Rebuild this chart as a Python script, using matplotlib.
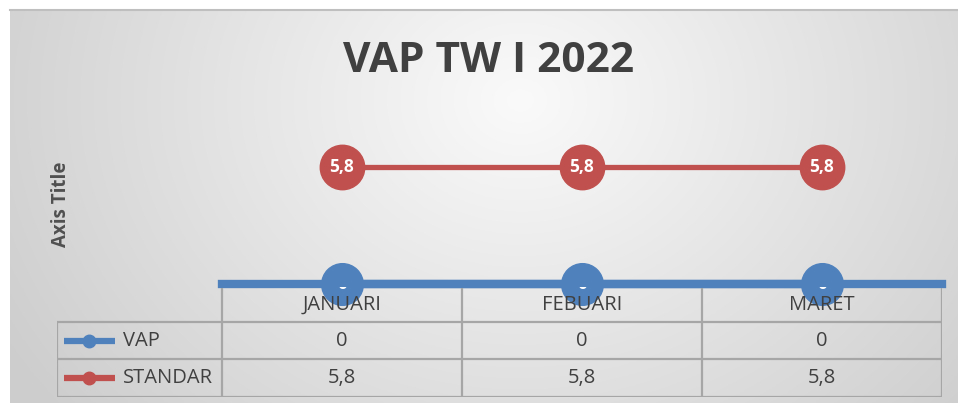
import numpy as np
import matplotlib
matplotlib.use('Agg')
import matplotlib.pyplot as plt
from matplotlib.transforms import Bbox, TransformedBbox

# data
categories = ['JANUARI', 'FEBUARI', 'MARET']
series_names = ['VAP', 'STANDAR']
vap = [0, 0, 0]
standar = [5.8, 5.8, 5.8]
value_labels = {'VAP': ['0', '0', '0'], 'STANDAR': ['5,8', '5,8', '5,8']}

BLUE = '#4f81bd'
RED = '#c0504d'
TEXT = '#404040'
GRID = '#a6a6a6'

plt.rcParams['font.family'] = ['Open Sans', 'DejaVu Sans']

W, H = 958, 403
fig = plt.figure(figsize=(W / 100, H / 100), dpi=100)
fig.patch.set_facecolor('white')


def fx(px):
    return px / W


def fy(py):
    return 1 - py / H


# background gradient (radial, light near the middle)
bg = fig.add_axes([fx(10), 0, fx(W - 10), fy(10)])
yy, xx = np.mgrid[10:H, 10:W]
r = np.sqrt(((xx - 520) / 600.0) ** 2 + ((yy - 100) / 500.0) ** 2)
shade = (250 - 45 * np.clip(r, 0, 1)) / 255.0
bg.imshow(np.dstack([shade] * 3), aspect='auto', interpolation='bilinear')
bg.set_axis_off()
fig.add_artist(plt.Line2D([fx(10), 1], [fy(10), fy(10)], color='#bfbfbf', lw=1.5))

# plot area
ax = fig.add_axes([fx(222), fy(284), fx(942 - 222), (284 - 143) / H])
ax.patch.set_alpha(0)
x = np.arange(1, len(categories) + 1)
ax.set_xlim(0.5, len(categories) + 0.5)
ax.set_ylim(0, 7)
for s in ['top', 'left', 'right']:
    ax.spines[s].set_visible(False)
ax.spines['bottom'].set_color(BLUE)
ax.spines['bottom'].set_linewidth(6)
ax.set_xticks([])
ax.set_yticks([])

ax.plot(x, standar, color=RED, lw=3.8, marker='o', ms=32, clip_on=False, zorder=3)
ax.plot(x, vap, color=BLUE, lw=6, marker='o', ms=30, clip_on=False, zorder=4)

for xi, v, lab in zip(x, standar, value_labels['STANDAR']):
    ax.text(xi, v, lab, color='white', fontsize=12.5, fontweight='bold',
            ha='center', va='center', zorder=5)
clip = TransformedBbox(Bbox([[0, -0.05], [1, -0.022]]), ax.transAxes)
for xi, v, lab in zip(x, vap, value_labels['VAP']):
    t = ax.text(xi, v, lab, color='white', fontsize=12.5, fontweight='bold',
                ha='center', va='center', zorder=5)
    t.set_clip_box(clip)
    t.set_clip_on(True)

# titles
fig.text(fx(489), fy(62), 'VAP TW I 2022', fontsize=30.5, fontweight='bold',
         color=TEXT, ha='center', va='center')
fig.text(fx(61), fy(204), 'Axis Title', fontsize=13.5, fontweight='bold',
         color='#505050', rotation=90, ha='center', va='center')

# data table
tab = fig.add_axes([fx(57), fy(397), fx(942 - 57), (397 - 284) / H])
tab.set_axis_off()
col_w = 240.0
x0 = 0.5 - (222 - 57) / col_w
tab.set_xlim(x0, len(categories) + 0.5)
tab.set_ylim(3, 0)
edges = np.arange(len(categories) + 1) + 0.5
for e in edges:
    tab.plot([e, e], [0.1, 3], color=GRID, lw=1.6, solid_capstyle='butt')
tab.plot([x0, x0], [1, 3], color=GRID, lw=1.6, solid_capstyle='butt')
for row in [1, 2, 3]:
    tab.plot([x0, edges[-1]], [row, row], color=GRID, lw=1.6, solid_capstyle='butt')

for xi, c in zip(x, categories):
    tab.text(xi, 0.55, c, fontsize=14.5, color=TEXT, ha='center', va='center')
for row, (name, col) in enumerate(zip(series_names, [BLUE, RED]), start=1):
    for xi, lab in zip(x, value_labels[name]):
        tab.text(xi, row + 0.5, lab, fontsize=14.5, color=TEXT, ha='center', va='center')
    tab.plot([x0 + 7 / col_w, x0 + 58 / col_w], [row + 0.5] * 2, color=col, lw=4.5,
             solid_capstyle='butt')
    tab.plot([x0 + 32 / col_w], [row + 0.5], 'o', color=col, ms=9)
    tab.text(x0 + 66 / col_w, row + 0.5, name, fontsize=14.5, color=TEXT,
             ha='left', va='center')

fig.savefig('out.png', dpi=100)
